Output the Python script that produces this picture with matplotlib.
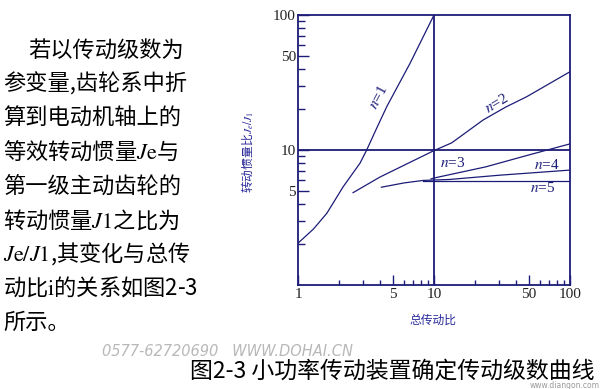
import matplotlib
matplotlib.use("Agg")
import matplotlib.pyplot as plt
from matplotlib.ticker import FixedLocator, NullFormatter, FixedFormatter

plt.rcParams['font.family'] = ['Noto Sans CJK SC', 'DejaVu Sans']
plt.rcParams['mathtext.fontset'] = 'stix'

# ---- data ----
n1_x = [1, 1.3, 1.63, 2.15, 2.86, 3.2, 3.8, 4.5, 6.66, 10]
n1_y = [2.04, 2.6, 3.4, 5.35, 8.0, 10, 14.6, 21, 43.8, 100]
n2_x = [2.54, 4.0, 10, 13.5, 23, 34, 48, 100]
n2_y = [4.83, 6.3, 9.9, 11.3, 16.7, 20.9, 24.8, 38]
n3_x = [9.5, 10, 24, 50, 100]
n3_y = [6.1, 6.2, 7.5, 9.2, 11.1]
n4_x = [4.1, 6, 8.3, 13, 30, 100]
n4_y = [5.3, 5.7, 5.95, 6.05, 6.5, 7.1]
n5_x = [8.3, 100]
n5_y = [5.9, 5.9]

series = [(n1_x, n1_y), (n2_x, n2_y), (n3_x, n3_y), (n4_x, n4_y), (n5_x, n5_y)]
curve_labels = [r'$n$=1', r'$n$=2', r'$n$=3', r'$n$=4', r'$n$=5']
label_pos = [(3.88, 24.7, 62), (29.1, 22.3, 31), (13.8, 8.0, 0), (67.8, 7.74, 0), (63.3, 5.23, 0)]

x_major = [1, 5, 10, 50, 100]
x_major_labels = ['1', '5', '10', '50', '100']
y_major = [5, 10, 50, 100]
y_major_labels = ['5', '10', '50', '100']
minor_vals = [2, 3, 4, 6, 7, 8, 9, 20, 30, 40, 60, 70, 80, 90]

paragraph = [
    "若以传动级数为",
    "参变量,齿轮系中折",
    "算到电动机轴上的",
    r"等效转动惯量$J\mathrm{e}$与",
    "第一级主动齿轮的",
    r"转动惯量$J\mathrm{1}$之比为",
    r"$J\mathrm{e}/J\mathrm{1}$,其变化与总传",
    r"动比$\mathrm{i}$的关系如图2-3",
    "所示。",
]
caption = "图2-3 小功率传动装置确定传动级数曲线"
xlabel = "总传动比"
ylabel = r"转动惯量比$J_e/J_1$"

NAVY = '#1c1c78'
W, H = 605, 389

fig = plt.figure(figsize=(6.05, 3.89), dpi=100)
ax = fig.add_axes([298 / W, 1 - 285 / H, 272 / W, 270 / H])
ax.set_xscale('log')
ax.set_yscale('log')
ax.set_xlim(1, 100)
ax.set_ylim(1, 100)

for xs, ys in series:
    ax.plot(xs, ys, color=NAVY, lw=0.9)

ax.axvline(10, color=NAVY, lw=1.3)
ax.axhline(10, color=NAVY, lw=1.3)

for txt, (lx, ly, rot) in zip(curve_labels, label_pos):
    ax.text(lx, ly, txt, color=NAVY, fontsize=11, rotation=rot,
            ha='center', va='center', family=['Liberation Serif', 'DejaVu Serif'])

for sp in ax.spines.values():
    sp.set_color(NAVY)
    sp.set_linewidth(1.3)

ax.xaxis.set_major_locator(FixedLocator(x_major))
ax.xaxis.set_major_formatter(FixedFormatter(x_major_labels))
ax.yaxis.set_major_locator(FixedLocator(y_major))
ax.yaxis.set_major_formatter(FixedFormatter(y_major_labels))
ax.xaxis.set_minor_locator(FixedLocator(minor_vals))
ax.yaxis.set_minor_locator(FixedLocator(minor_vals))
ax.xaxis.set_minor_formatter(NullFormatter())
ax.yaxis.set_minor_formatter(NullFormatter())

ax.tick_params(axis='x', which='major', direction='in', length=7, width=1.0,
               color=NAVY, pad=2, labelsize=11, labelcolor='#222222')
ax.tick_params(axis='x', which='minor', direction='in', length=3.5, width=1.0, color=NAVY)
ax.tick_params(axis='y', which='major', direction='in', length=8, width=1.0,
               color=NAVY, pad=1.5, labelsize=11, labelcolor='#222222')
ax.tick_params(axis='y', which='minor', direction='in', length=5, width=1.0, color=NAVY)
for lab in ax.get_xticklabels() + ax.get_yticklabels():
    lab.set_family(['Liberation Serif', 'DejaVu Serif'])

fig.text(433 / W, 1 - 320 / H, xlabel, color='#2a2a9a', fontsize=8.5,
         ha='center', va='center')
fig.text(247 / W, 1 - 152 / H, ylabel, color='#2a2a9a', fontsize=8.5,
         ha='center', va='center', rotation=90)

# left paragraph
y0, dy = 50, 34.0
for i, line in enumerate(paragraph):
    x = 28 if i == 0 else 3
    fig.text(x / W, 1 - (y0 + i * dy) / H, line, fontsize=16, color='black',
             fontweight='light', ha='left', va='center')

# watermarks
fig.text(102 / W, 1 - 351 / H, "0577-62720690   WWW.DOHAI.CN", fontsize=10.5,
         color='#b8b8b8', style='italic', ha='left', va='center',
         family=['DejaVu Sans'], zorder=0)
fig.text(600 / W, 1 - 386 / H, "www.diangon.com", fontsize=5.5,
         color='#9a9a9a', ha='right', va='center', family=['DejaVu Sans'], zorder=0)

fig.text(190 / W, 1 - 371 / H, caption, fontsize=16.5, color='black',
         fontweight='light', ha='left', va='center', zorder=2)

fig.savefig('out.png', dpi=100)
